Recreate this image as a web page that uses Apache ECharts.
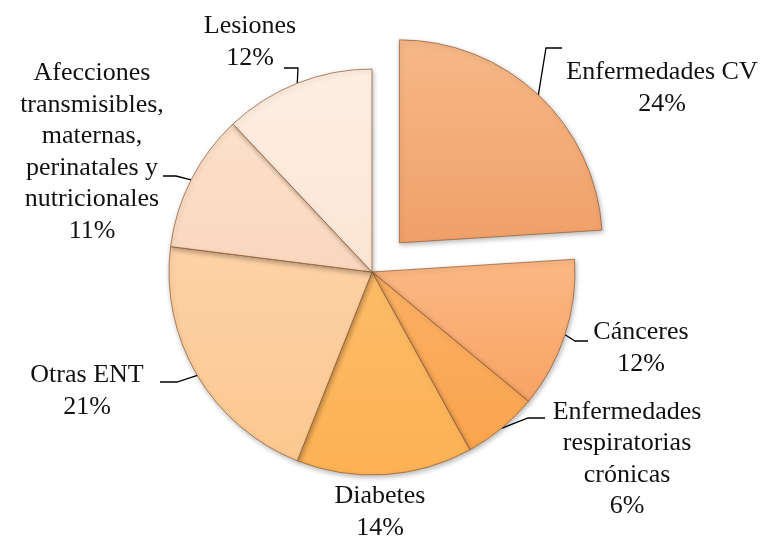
<!DOCTYPE html>
<html>
<head>
<meta charset="utf-8">
<script src="https://cdn.jsdelivr.net/npm/echarts@6/dist/echarts.min.js"></script>
<style>
html,body{margin:0;padding:0;background:#fff;}
#main{width:765px;height:541px;}
</style>
</head>
<body>
<div id="main"></div>
<script>
// ---- data ----
var categories = [
  'Enfermedades CV',
  'Cánceres',
  'Enfermedades\nrespiratorias\ncrónicas',
  'Diabetes',
  'Otras ENT',
  'Afecciones\ntransmisibles,\nmaternas,\nperinatales y\nnutricionales',
  'Lesiones'
];
var values = [24, 12, 6, 14, 21, 11, 12];
var explodedIndex = 0;

// ---- styles ----
var colorsTop    = ['#F6B888', '#FBB884', '#FBB064', '#FDBC68', '#FDD2A6', '#FCE0CA', '#FDEEE2'];
var colorsBottom = ['#F0A068', '#F8A464', '#FAA44E', '#FCB154', '#FCC890', '#FAD7BE', '#FCE6D4'];

// label anchor (center of text block) and line elbow/end, per slice
var labelCenters = [[662, 88], [641, 348], [627, 459], [380, 512], [87, 391], [92, 152], [250, 42]];
var lineElbows   = [[546, 48], [575, 341], [528, 418], null, [177, 382], [176, 176], [298, 68]];
var lineEnds     = [[562, 48], [588, 341], [545, 418], null, [160, 382], [163, 176], [284, 68]];

var pieCenter = [372, 272];
var pieRadius = 203;
var explodeDist = 40;

// offset of exploded slice along its mid angle
var total = values.reduce(function (a, b) { return a + b; }, 0);
var before = 0;
for (var k = 0; k < explodedIndex; k++) before += values[k];
var midFrac = (before + values[explodedIndex] / 2) / total;
var midAng = midFrac * 2 * Math.PI;
var explodedCenter = [pieCenter[0] + explodeDist * Math.sin(midAng), pieCenter[1] - explodeDist * Math.cos(midAng)];

var chart = echarts.init(document.getElementById('main'), null, {renderer: 'canvas'});

var baseItemStyle = {
  borderColor: 'rgba(150,95,55,0.75)',
  borderWidth: 1,
  shadowBlur: 5,
  shadowColor: 'rgba(0,0,0,0.28)',
  shadowOffsetX: 1,
  shadowOffsetY: 2
};
var hiddenItemStyle = {
  color: 'rgba(0,0,0,0)',
  borderWidth: 0,
  shadowBlur: 0,
  shadowColor: 'rgba(0,0,0,0)'
};

function makeData(showFn) {
  return categories.map(function (name, i) {
    var show = showFn(i);
    return {
      name: name,
      value: values[i],
      itemStyle: show ? {
        color: new echarts.graphic.LinearGradient(0, 0, 0, 1, [
          {offset: 0, color: colorsTop[i]},
          {offset: 1, color: colorsBottom[i]}
        ])
      } : hiddenItemStyle,
      label: {show: show},
      labelLine: {show: show && lineEnds[i] !== null}
    };
  });
}

function labelLayout(params) {
  var i = params.dataIndex;
  var res = {
    x: labelCenters[i][0],
    y: labelCenters[i][1],
    align: 'center',
    verticalAlign: 'middle'
  };
  if (lineEnds[i] && params.labelLinePoints) {
    res.labelLinePoints = [
      params.labelLinePoints[0],
      lineElbows[i],
      lineEnds[i]
    ];
  }
  return res;
}

var common = {
  type: 'pie',
  radius: [0, pieRadius],
  startAngle: 90,
  clockwise: true,
  avoidLabelOverlap: false,
  silent: true,
  emphasis: {disabled: true},
  itemStyle: baseItemStyle,
  label: {
    show: true,
    position: 'outer',
    formatter: '{b}\n{d}%',
    fontFamily: 'Liberation Serif',
    fontSize: 26,
    lineHeight: 31.5,
    color: '#111',
    align: 'center'
  },
  labelLine: {
    show: true,
    lineStyle: {color: '#000', width: 1.3}
  },
  labelLayout: labelLayout
};

chart.setOption({
  animation: false,
  backgroundColor: '#ffffff',
  series: [
    Object.assign({}, common, {
      center: pieCenter,
      data: makeData(function (i) { return i !== explodedIndex; })
    }),
    Object.assign({}, common, {
      center: explodedCenter,
      data: makeData(function (i) { return i === explodedIndex; })
    })
  ]
});
</script>
</body>
</html>
